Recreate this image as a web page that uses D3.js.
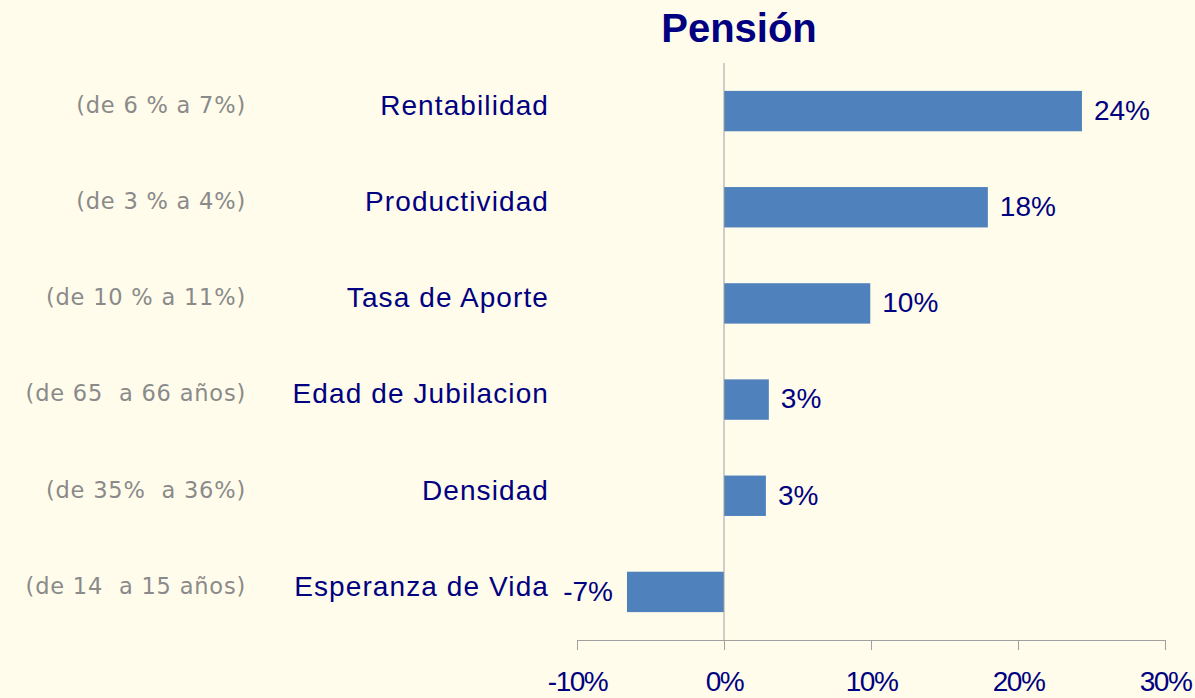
<!DOCTYPE html>
<html>
<head>
<meta charset="utf-8">
<script src="https://cdn.jsdelivr.net/npm/d3@7"></script>
<style>
  html, body { margin: 0; padding: 0; background: #FFFCEB; }
  svg { display: block; }
</style>
</head>
<body>
<svg id="chart" width="1195" height="698"></svg>
<script>
// Sensitivity of the pension to a one-step change in each parameter
const categories = ["Rentabilidad", "Productividad", "Tasa de Aporte", "Edad de Jubilacion", "Densidad", "Esperanza de Vida"];
const ranges = ["(de 6 % a 7%)", "(de 3 % a 4%)", "(de 10 % a 11%)", "(de 65  a 66 años)", "(de 35%  a 36%)", "(de 14  a 15 años)"];
const values = [0.2435, 0.1795, 0.0995, 0.0305, 0.0285, -0.066];
const xTicks = [-0.1, 0, 0.1, 0.2, 0.3];
const title = "Pensión";

const svg = d3.select("#chart");
const W = 1195, H = 698;
svg.append("rect").attr("width", W).attr("height", H).attr("fill", "#FFFCEB");

const x = d3.scaleLinear().domain([-0.1, 0.3]).range([577, 1165]);
const y = d3.scaleBand().domain(categories).range([63, 640]).paddingInner(0.58).paddingOuter(0.29);
// plain hyphen for negatives
const pct = d => d3.format(".0%")(d).replace("\u2212", "-");
const navy = "#000080";

// title
svg.append("text")
  .attr("x", 739).attr("y", 42)
  .attr("text-anchor", "middle")
  .attr("font-family", "Liberation Sans, Arial, sans-serif")
  .attr("font-weight", "bold").attr("font-size", 40)
  .attr("fill", navy)
  .text(title);

// bars
svg.append("g").selectAll("rect")
  .data(values)
  .join("rect")
  .attr("x", d => x(Math.min(0, d)))
  .attr("width", d => Math.abs(x(d) - x(0)))
  .attr("y", (d, i) => y(categories[i]))
  .attr("height", y.bandwidth())
  .attr("fill", "#4F81BD");

// zero line
svg.append("line")
  .attr("x1", x(0)).attr("x2", x(0))
  .attr("y1", 63).attr("y2", 640)
  .attr("stroke", "#A0A0A0").attr("stroke-width", 1);

// bottom axis
const axis = svg.append("g")
  .attr("transform", "translate(0,640)")
  .call(d3.axisBottom(x).tickValues(xTicks).tickFormat(pct).tickSize(10).tickSizeOuter(0).tickPadding(21));
axis.select(".domain").attr("stroke", "#A0A0A0");
axis.selectAll(".tick line").attr("stroke", "#A0A0A0");
axis.selectAll(".tick text")
  .attr("fill", navy)
  .attr("font-family", "Liberation Sans, Arial, sans-serif")
  .attr("font-size", 28)
  .attr("letter-spacing", -1.5);

// value labels
svg.append("g").selectAll("text")
  .data(values)
  .join("text")
  .attr("x", d => d >= 0 ? x(d) + 12 : x(d) - 14)
  .attr("y", (d, i) => y(categories[i]) + y.bandwidth() / 2 - 1)
  .attr("dy", "0.35em")
  .attr("text-anchor", d => d >= 0 ? "start" : "end")
  .attr("font-family", "Liberation Sans, Arial, sans-serif")
  .attr("font-size", 28)
  .attr("letter-spacing", 0)
  .attr("fill", navy)
  .text(d => pct(d));

// category labels
svg.append("g").selectAll("text")
  .data(categories)
  .join("text")
  .attr("x", 549)
  .attr("y", d => y(d) + y.bandwidth() / 2 - 6)
  .attr("dy", "0.35em")
  .attr("text-anchor", "end")
  .attr("font-family", "Liberation Sans, Arial, sans-serif")
  .attr("font-size", 28)
  .attr("letter-spacing", 1.1)
  .attr("fill", navy)
  .text(d => d);

// parameter change labels
svg.append("g").selectAll("text")
  .data(ranges)
  .join("text")
  .attr("x", 246)
  .attr("y", (d, i) => y(categories[i]) + y.bandwidth() / 2 - 6)
  .attr("dy", "0.35em")
  .attr("text-anchor", "end")
  .attr("font-family", "DejaVu Sans, sans-serif")
  .attr("font-size", 22.5)
  .attr("letter-spacing", 0.8)
  .attr("fill", "#8A8A8A")
  .style("white-space", "pre")
  .attr("xml:space", "preserve")
  .text(d => d);
</script>
</body>
</html>
